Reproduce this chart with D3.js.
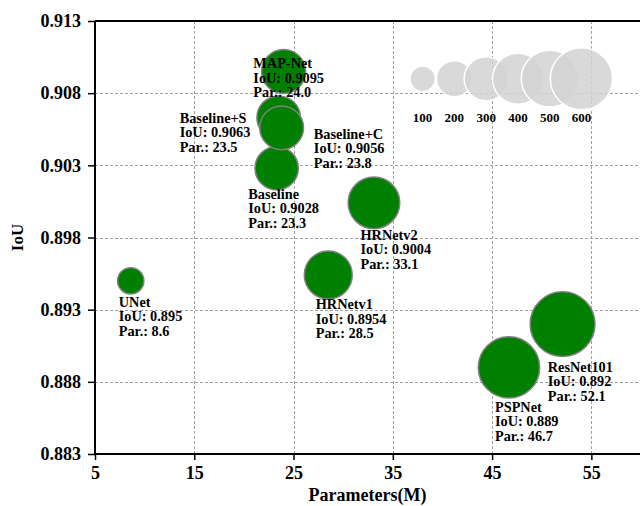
<!DOCTYPE html>
<html>
<head>
<meta charset="utf-8">
<script src="https://cdn.jsdelivr.net/npm/d3@7"></script>
<style>
  html, body { margin: 0; padding: 0; background: #fff; }
  svg { display: block; }
  text { font-family: "Liberation Serif", "Times New Roman", serif; font-weight: bold; fill: #000; }
</style>
</head>
<body>
<svg id="chart" width="640" height="506"></svg>
<script>
// Models compared: parameter count (millions) against IoU
const models = ["UNet", "HRNetv1", "HRNetv2", "PSPNet", "ResNet101", "Baseline", "Baseline+S", "Baseline+C", "MAP-Net"];
const paramsM = [8.6, 28.5, 33.1, 46.7, 52.1, 23.3, 23.5, 23.8, 24.0];
const iouValues = [0.895, 0.8954, 0.9004, 0.889, 0.892, 0.9028, 0.9063, 0.9056, 0.9095];
const iouLabels = ["0.895", "0.8954", "0.9004", "0.889", "0.892", "0.9028", "0.9063", "0.9056", "0.9095"];

// Axis ticks
const xTicks = [5, 15, 25, 35, 45, 55];
const yTicks = [0.883, 0.888, 0.893, 0.898, 0.903, 0.908, 0.913];

// Size key
const sizeKey = [100, 200, 300, 400, 500, 600];

// Bubble area is proportional to the parameter count
const areaPerParam = 12.5;

// Label placement (pixel offset of the first text line from the bubble centre)
const labelOffsets = [
  [-12, 26], [-12.6, 34], [-13.5, 37], [-14, 44.5], [-14.8, 47.8],
  [-28.4, 30.7], [-99, 5], [32.2, 11], [-30.3, -3.5]
];

const svg = d3.select("#chart");
const plotL = 95, plotR = 641, plotT = 21, plotB = 454;

const x = d3.scaleLinear().domain([5, 60]).range([plotL, plotR]);
const y = d3.scaleLinear().domain([0.883, 0.913]).range([plotB, plotT]);
const r = d3.scaleSqrt().domain([0, 600]).range([0, 31.1]);

// Grid
const grid = svg.append("g").attr("stroke", "#a0a0a0").attr("stroke-width", 1).attr("stroke-dasharray", "3,2");
grid.selectAll("line.v").data(xTicks.slice(1)).join("line")
  .attr("x1", d => Math.round(x(d)) + 0.5).attr("x2", d => Math.round(x(d)) + 0.5)
  .attr("y1", plotT).attr("y2", plotB);
grid.selectAll("line.h").data(yTicks.slice(1, -1)).join("line")
  .attr("x1", plotL).attr("x2", plotR)
  .attr("y1", d => Math.round(y(d)) + 0.5).attr("y2", d => Math.round(y(d)) + 0.5);

// Size key bubbles
const keyX = sizeKey.map((s, i) => 38 + i * 3.2);
const keyG = svg.append("g");
keyG.selectAll("circle").data(sizeKey).join("circle")
  .attr("cx", (d, i) => x(keyX[i]))
  .attr("cy", y(0.909))
  .attr("r", d => r(d))
  .attr("fill", "#d2d2d2")
  .attr("fill-opacity", 0.85)
  .attr("stroke", "#ffffff")
  .attr("stroke-width", 1.5);
keyG.selectAll("text").data(sizeKey).join("text")
  .attr("x", (d, i) => x(keyX[i]))
  .attr("y", y(0.9063) + 4.5)
  .attr("text-anchor", "middle")
  .style("font-size", "13px")
  .text(d => d);

// Bubbles
const pts = models.map((m, i) => ({ name: m, p: paramsM[i], v: iouValues[i], iouText: iouLabels[i], off: labelOffsets[i] }));
svg.append("g").selectAll("circle").data(pts).join("circle")
  .attr("cx", d => x(d.p))
  .attr("cy", d => y(d.v))
  .attr("r", d => r(d.p * areaPerParam))
  .attr("fill", "#008000")
  .attr("stroke", "#808080")
  .attr("stroke-width", 1.5);

// Labels
const lab = svg.append("g").selectAll("text").data(pts).join("text")
  .attr("x", d => x(d.p) + d.off[0])
  .attr("y", d => y(d.v) + d.off[1])
  .style("font-size", "14.3px");
lab.each(function (d) {
  const t = d3.select(this);
  const lines = [d.name, "IoU: " + d.iouText, "Par.: " + d.p.toFixed(1)];
  lines.forEach((ln, k) => {
    t.append("tspan").attr("x", x(d.p) + d.off[0]).attr("dy", k === 0 ? 0 : 14.5).text(ln);
  });
});

// Axes
const xAxis = svg.append("g").attr("transform", `translate(0,${plotB})`)
  .call(d3.axisBottom(x).tickValues(xTicks).tickSize(6).tickPadding(6).tickFormat(d3.format("d")));
const yAxis = svg.append("g").attr("transform", `translate(${plotL},0)`)
  .call(d3.axisLeft(y).tickValues(yTicks).tickSize(7).tickPadding(7).tickFormat(d3.format(".3f")));
[xAxis, yAxis].forEach(a => {
  a.select(".domain").attr("stroke", "#000").attr("stroke-width", 2);
  a.selectAll(".tick line").attr("stroke", "#000").attr("stroke-width", 1.5);
  a.selectAll(".tick text").attr("fill", "#000")
    .style("font-family", "'Liberation Serif', 'Times New Roman', serif")
    .style("font-weight", "bold").style("font-size", "18px");
});
xAxis.select(".domain").attr("d", `M${plotL},0H${plotR}`);
yAxis.select(".domain").attr("d", `M0,${plotB}V${plotT}`);

// Top frame
svg.append("line").attr("x1", plotL).attr("x2", plotR).attr("y1", plotT).attr("y2", plotT)
  .attr("stroke", "#000").attr("stroke-width", 2);

// Axis titles
svg.append("text").attr("x", (plotL + 640) / 2).attr("y", 501)
  .attr("text-anchor", "middle").style("font-size", "18px").text("Parameters(M)");
svg.append("text").attr("transform", `translate(23,${(plotT + plotB) / 2}) rotate(-90)`)
  .attr("text-anchor", "middle").style("font-size", "17px").text("IoU");
</script>
</body>
</html>
